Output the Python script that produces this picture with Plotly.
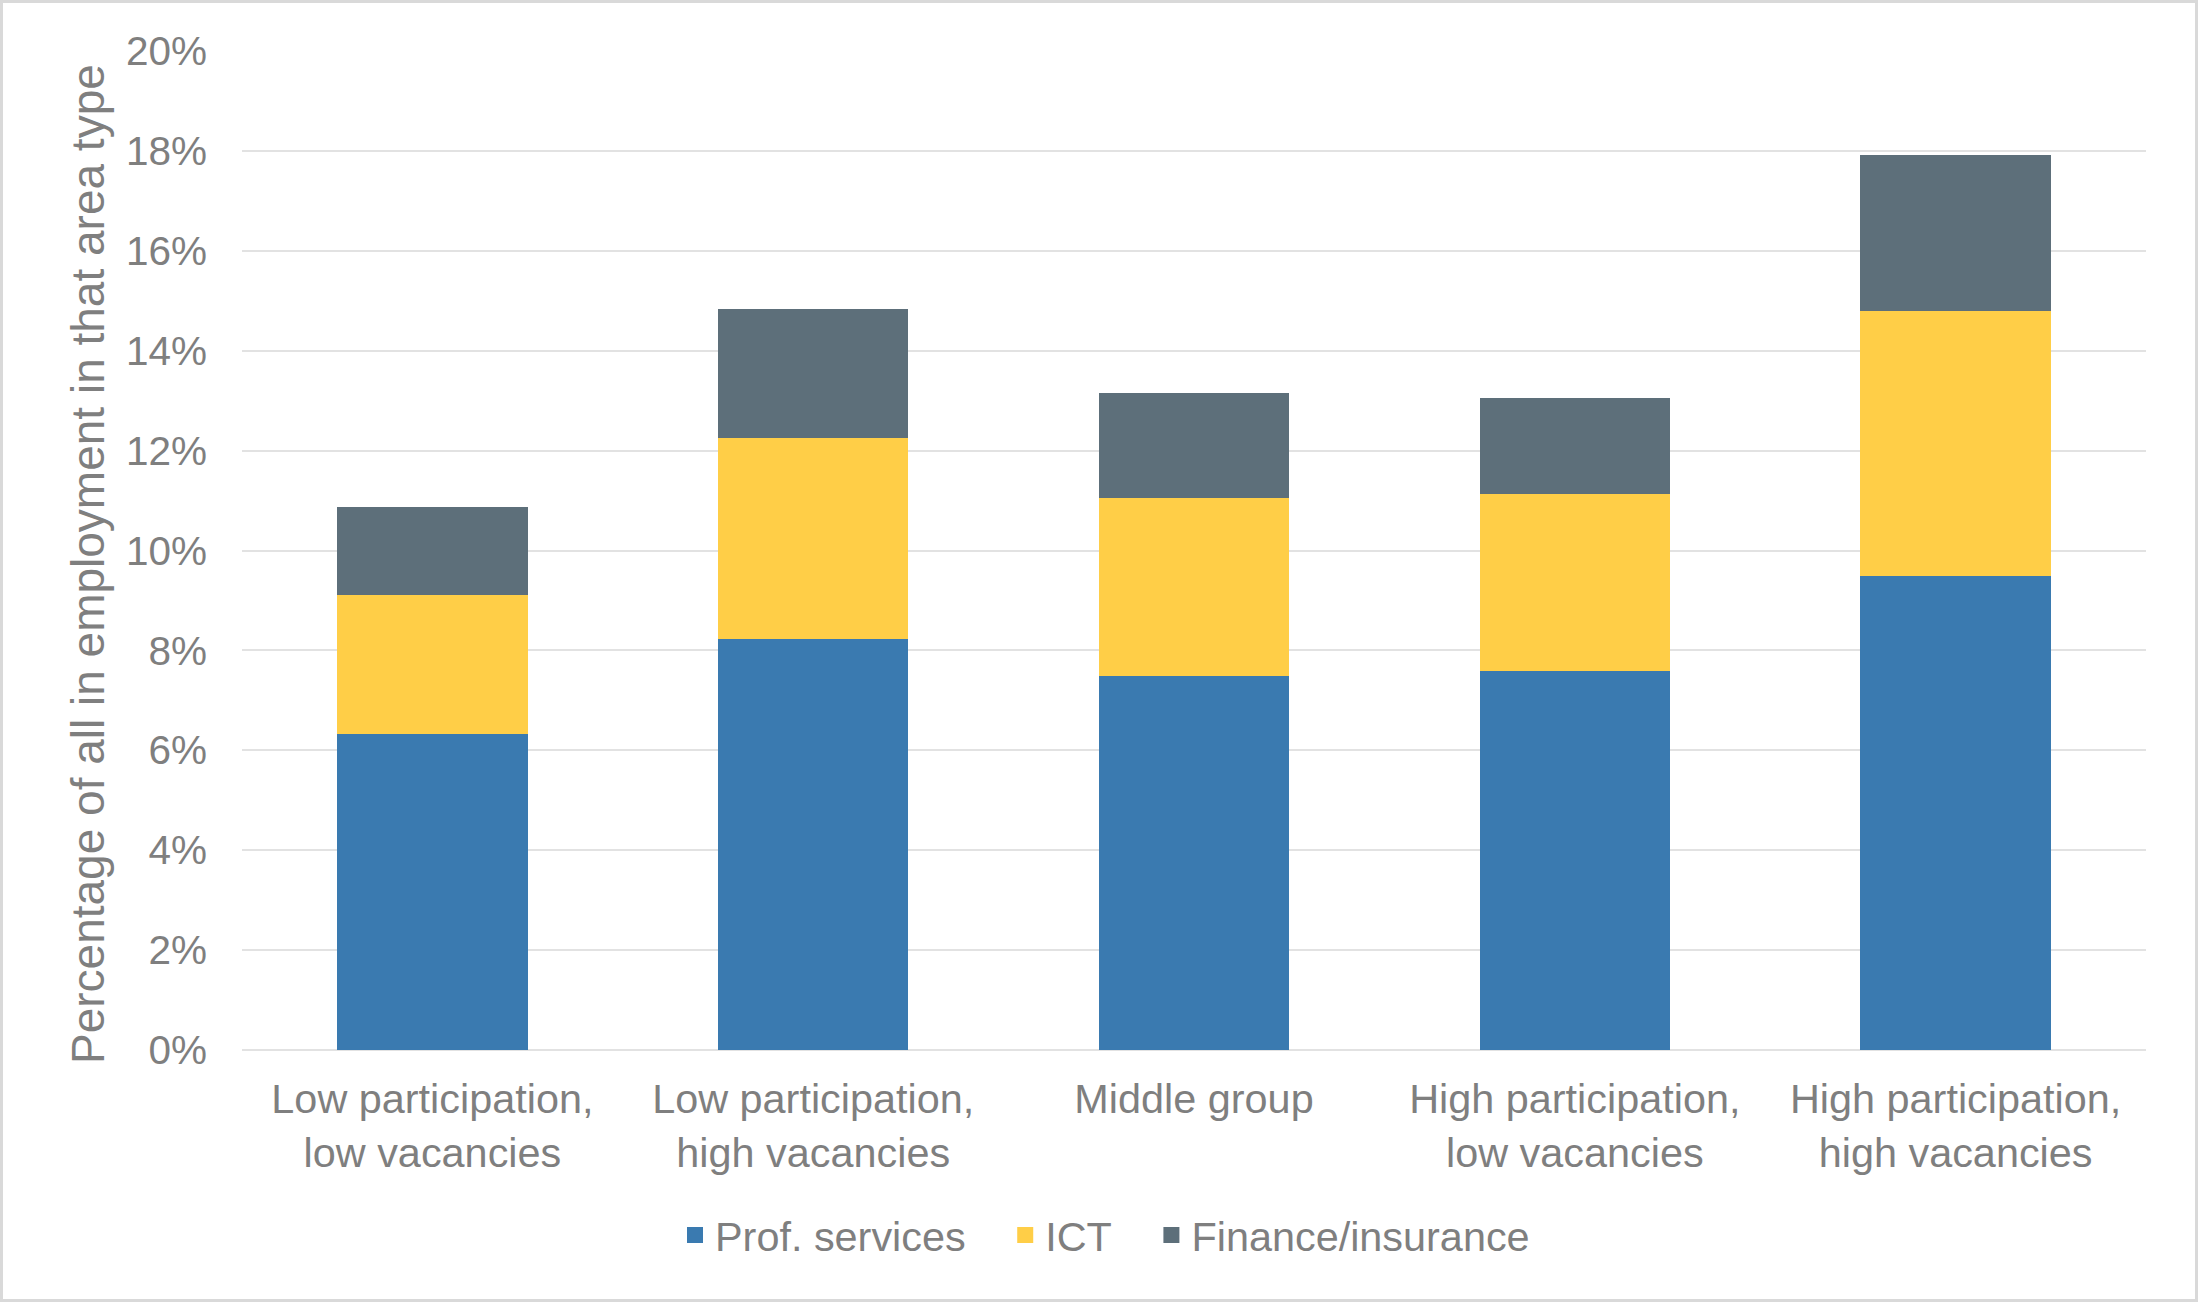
import plotly.graph_objects as go

categories = [
    "Low participation,<br>low vacancies",
    "Low participation,<br>high vacancies",
    "Middle group",
    "High participation,<br>low vacancies",
    "High participation,<br>high vacancies",
]
prof_services = [0.0632, 0.0823, 0.0748, 0.0758, 0.0948]
ict = [0.0279, 0.0402, 0.0357, 0.0355, 0.0531]
finance = [0.0177, 0.0258, 0.0210, 0.0193, 0.0313]

series_names = ["Prof. services", "ICT", "Finance/insurance"]
series_values = [prof_services, ict, finance]
series_colors = ["#3A7AB0", "#FFCE47", "#5D6F7A"]
y_title = "Percentage of all in employment in that area type"

W, H = 2198, 1302
L, R, T, B = 242, 52, 51, 252
pw, ph = W - L - R, H - T - B

TEXT = "#7F7F7F"
FONT = "Arial, Liberation Sans, sans-serif"
PAD = "\u00a0" * 3

fig = go.Figure()
for name, vals, col in zip(series_names, series_values, series_colors):
    fig.add_trace(go.Bar(x=categories, y=vals, name=name, marker=dict(color=col, line=dict(width=0)),
                         showlegend=False))
for i, (name, col) in enumerate(zip(series_names, series_colors)):
    fig.add_trace(go.Scatter(x=[None], y=[None], mode="markers", name=name + (PAD if i < 2 else ""),
                             marker=dict(symbol="square", size=20, color=col), showlegend=True))

fig.update_layout(
    width=W, height=H,
    margin=dict(l=L, r=R, t=T, b=B, autoexpand=False),
    barmode="stack", bargap=0.5,
    paper_bgcolor="white", plot_bgcolor="white",
    font=dict(family=FONT, size=41, color=TEXT),
    legend=dict(orientation="h", traceorder="normal", x=(1105 - L) / pw, xanchor="center",
                y=(T + ph - 1235) / ph, yanchor="middle",
                font=dict(size=41.4, color=TEXT), itemsizing="trace", bgcolor="rgba(0,0,0,0)"),
    xaxis=dict(showgrid=False, showline=False, ticks="", tickfont=dict(size=41.4, color=TEXT),
               ticklabelstandoff=21, automargin=False),
    yaxis=dict(range=[0, 0.2], dtick=0.02, tickformat=".0%", showgrid=True, gridcolor="#E2E2E2", gridwidth=2,
               zeroline=True, zerolinecolor="#E2E2E2", zerolinewidth=2, showline=False, ticks="",
               tickfont=dict(size=40.5, color=TEXT), ticklabelstandoff=34, automargin=False),
    annotations=[dict(text=y_title, textangle=-90, xref="paper", yref="paper",
                      x=(88 - L) / pw, y=(T + ph - 564) / ph, xanchor="center", yanchor="middle",
                      showarrow=False, font=dict(size=46, color=TEXT))],
    shapes=[dict(type="rect", xref="paper", yref="paper",
                 x0=(-L + 1.5) / pw, x1=1 + (R - 1.5) / pw, y0=(-B + 1.5) / ph, y1=1 + (T - 1.5) / ph,
                 line=dict(color="#D9D9D9", width=3), fillcolor="rgba(0,0,0,0)", layer="below")],
)

fig.write_html("out.html")
